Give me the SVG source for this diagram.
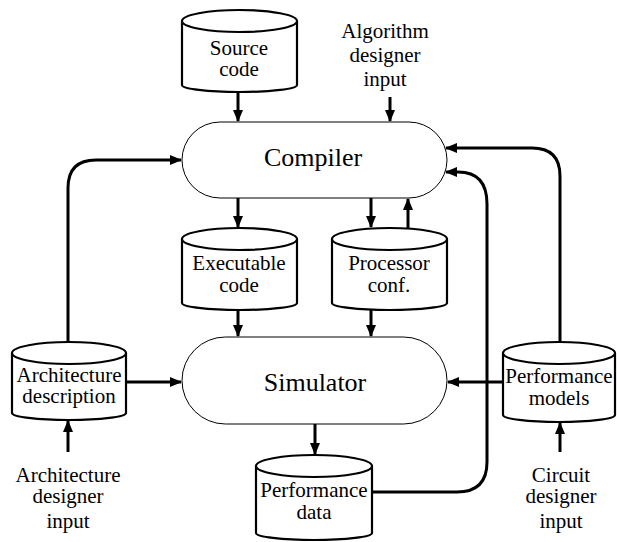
<svg xmlns="http://www.w3.org/2000/svg" width="617" height="542" viewBox="0 0 617 542" font-family="'Liberation Serif', serif">
<defs>
<marker id="ah" markerUnits="userSpaceOnUse" markerWidth="12" markerHeight="10" refX="11" refY="5" orient="auto">
<path d="M0,0 L12,5 L0,10 z" fill="#000"/>
</marker>
<style>
.cyl{fill:#fff;stroke:#000;stroke-width:2.2}
.proc{fill:#fff;stroke:#000;stroke-width:1}
.edge{fill:none;stroke:#000;stroke-width:3;marker-end:url(#ah)}
text{font-family:'Liberation Serif',serif;fill:#000;text-anchor:middle}
.t{font-size:21px}
.big{font-size:26px}
</style>
</defs>
<rect width="617" height="542" fill="#fff"/>
<g id="connectors">
<path class="edge" d="M238,92 V121"/>
<path class="edge" d="M390,97 V121"/>
<path class="edge" d="M238,198 V227"/>
<path class="edge" d="M371,198 V227"/>
<path class="edge" d="M408,228 V199"/>
<path class="edge" d="M238,310 V336"/>
<path class="edge" d="M371,310 V336"/>
<path class="edge" d="M315,424 V454"/>
<path class="edge" d="M126,382 H181"/>
<path class="edge" d="M503,382 H448"/>
<path class="edge" d="M68,342 V188 Q68,160 96,160 H181"/>
<path class="edge" d="M560,342 V176 Q560,148 532,148 H446"/>
<path class="edge" d="M372,492 H457 Q487,492 487,462 V204 Q487,172 458,172 H446"/>
<path class="edge" d="M68,452 V421"/>
<path class="edge" d="M560,452 V423"/>
</g>
<g id="source-code">
<path class="cyl" d="M182,21 V85 A57.5,7 0 0 0 297,85 V21 A57.5,11 0 0 0 182,21 A57.5,11 0 0 0 297,21"/>
<text class="t" x="239" y="55">Source</text>
<text class="t" x="239" y="76">code</text>
</g>
<g id="algorithm-designer-input">
<text class="t" x="385" y="38">Algorithm</text>
<text class="t" x="385" y="62">designer</text>
<text class="t" x="385" y="86">input</text>
</g>
<g id="compiler">
<rect class="proc" x="182" y="122" width="265" height="76" rx="38" ry="38"/>
<text class="big" x="313" y="166">Compiler</text>
</g>
<g id="executable-code">
<path class="cyl" d="M182,239 V303 A57.5,7 0 0 0 297,303 V239 A57.5,11 0 0 0 182,239 A57.5,11 0 0 0 297,239"/>
<text class="t" x="239" y="270">Executable</text>
<text class="t" x="239" y="292">code</text>
</g>
<g id="processor-conf">
<path class="cyl" d="M332,239 V303 A57.5,7 0 0 0 447,303 V239 A57.5,11 0 0 0 332,239 A57.5,11 0 0 0 447,239"/>
<text class="t" x="389" y="270">Processor</text>
<text class="t" x="389" y="292">conf.</text>
</g>
<g id="simulator">
<rect class="proc" x="182" y="337" width="265" height="87" rx="43.5" ry="43.5"/>
<text class="big" x="315" y="391">Simulator</text>
</g>
<g id="architecture-description">
<path class="cyl" d="M12,353 V413 A57,7 0 0 0 126,413 V353 A57,11 0 0 0 12,353 A57,11 0 0 0 126,353"/>
<text class="t" x="69" y="382">Architecture</text>
<text class="t" x="69" y="403">description</text>
</g>
<g id="performance-models">
<path class="cyl" d="M503,353 V415 A56,7 0 0 0 615,415 V353 A56,11 0 0 0 503,353 A56,11 0 0 0 615,353"/>
<text class="t" x="559" y="383">Performance</text>
<text class="t" x="559" y="405">models</text>
</g>
<g id="performance-data">
<path class="cyl" d="M256,466 V533 A58,7 0 0 0 372,533 V466 A58,11 0 0 0 256,466 A58,11 0 0 0 372,466"/>
<text class="t" x="314" y="497">Performance</text>
<text class="t" x="314" y="519">data</text>
</g>
<g id="architecture-designer-input">
<text class="t" x="68" y="482">Architecture</text>
<text class="t" x="68" y="503">designer</text>
<text class="t" x="68" y="528">input</text>
</g>
<g id="circuit-designer-input">
<text class="t" x="561" y="482">Circuit</text>
<text class="t" x="561" y="503">designer</text>
<text class="t" x="561" y="528">input</text>
</g>
</svg>
